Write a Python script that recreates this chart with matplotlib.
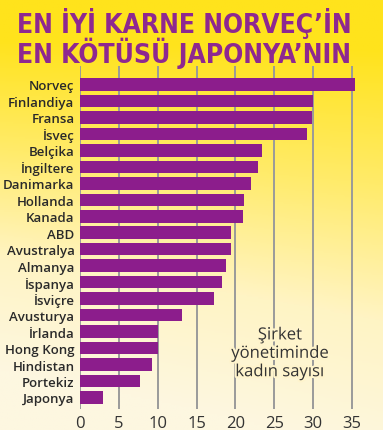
import numpy as np
import matplotlib
matplotlib.use('Agg')
import matplotlib.pyplot as plt
import matplotlib.patheffects as pe
from matplotlib.colors import LinearSegmentedColormap

# veriler
ulkeler = ['Norveç', 'Finlandiya', 'Fransa', 'İsveç', 'Belçika', 'İngiltere',
           'Danimarka', 'Hollanda', 'Kanada', 'ABD', 'Avustralya', 'Almanya',
           'İspanya', 'İsviçre', 'Avusturya', 'İrlanda', 'Hong Kong',
           'Hindistan', 'Portekiz', 'Japonya']
oranlar = [35.4, 30.0, 29.9, 29.2, 23.4, 22.9, 22.0, 21.1, 21.0, 19.4,
           19.4, 18.8, 18.3, 17.2, 13.1, 10.0, 10.0, 9.3, 7.7, 3.0]
x_ticks = [0, 5, 10, 15, 20, 25, 30, 35]

PURPLE = '#8C1D8C'
TITLE_PURPLE = '#8E2890'
W, H = 383, 431

fig = plt.figure(figsize=(W / 100, H / 100), dpi=100)

# arka plan: sarı degrade
bg = fig.add_axes([0, 0, 1, 1])
yy, xx = np.mgrid[0:1:200j, 0:1:200j]
grad = np.clip(yy * 1.05 + (1 - xx) * 0.25 * yy - 0.12, 0, 1)
cmap = LinearSegmentedColormap.from_list('bg', ['#FFE31C', '#FFEB6A', '#FFF4C4', '#FDF7E0'])
bg.imshow(grad, cmap=cmap, aspect='auto', extent=[0, 1, 0, 1], origin='upper')
bg.axis('off')

# başlık (iki satır, aynı metin nesnesi)
fig.text(17 / W, 1 - 8 / H, 'EN İYİ KARNE NORVEÇ’İN\nEN KÖTÜSÜ JAPONYA’NIN',
         color=TITLE_PURPLE, fontsize=19, fontweight='bold', family='DejaVu Sans',
         fontstretch='condensed', ha='left', va='top', linespacing=0.93)

# grafik
px = 7.77
x_max = 36.5
ax = fig.add_axes([80 / W, 21 / H, x_max * px / W, 343 / H])
ax.patch.set_alpha(0)
y = np.arange(len(ulkeler))
ax.barh(y, oranlar, height=0.76, color=PURPLE, zorder=3)
ax.set_xlim(0, x_max)
ax.set_ylim(19.7, -1.12)
ax.set_xticks(x_ticks)
ax.set_yticks(y)
ax.set_yticklabels(ulkeler, family='Open Sans', fontsize=9.5,
                   fontweight='semibold', color='#2a2a2a')
ax.tick_params(axis='x', length=0, pad=4, labelsize=12, labelcolor='#333333')
ax.tick_params(axis='y', length=0, pad=4)
for lbl in ax.get_xticklabels():
    lbl.set_family('Open Sans')
for s in ax.spines.values():
    s.set_visible(False)
ax.grid(axis='x', color='#9a9a9a', linewidth=1.4, zorder=1)
ax.set_axisbelow(True)

ax.text(25.7, 16.35, 'Şirket\nyönetiminde\nkadın sayısı', family='Open Sans',
        fontsize=12, color='#333333', ha='center', va='center',
        linespacing=1.2, zorder=4,
        path_effects=[pe.withStroke(linewidth=3, foreground='#FFF4CC')])

fig.savefig('out.png', dpi=100)
